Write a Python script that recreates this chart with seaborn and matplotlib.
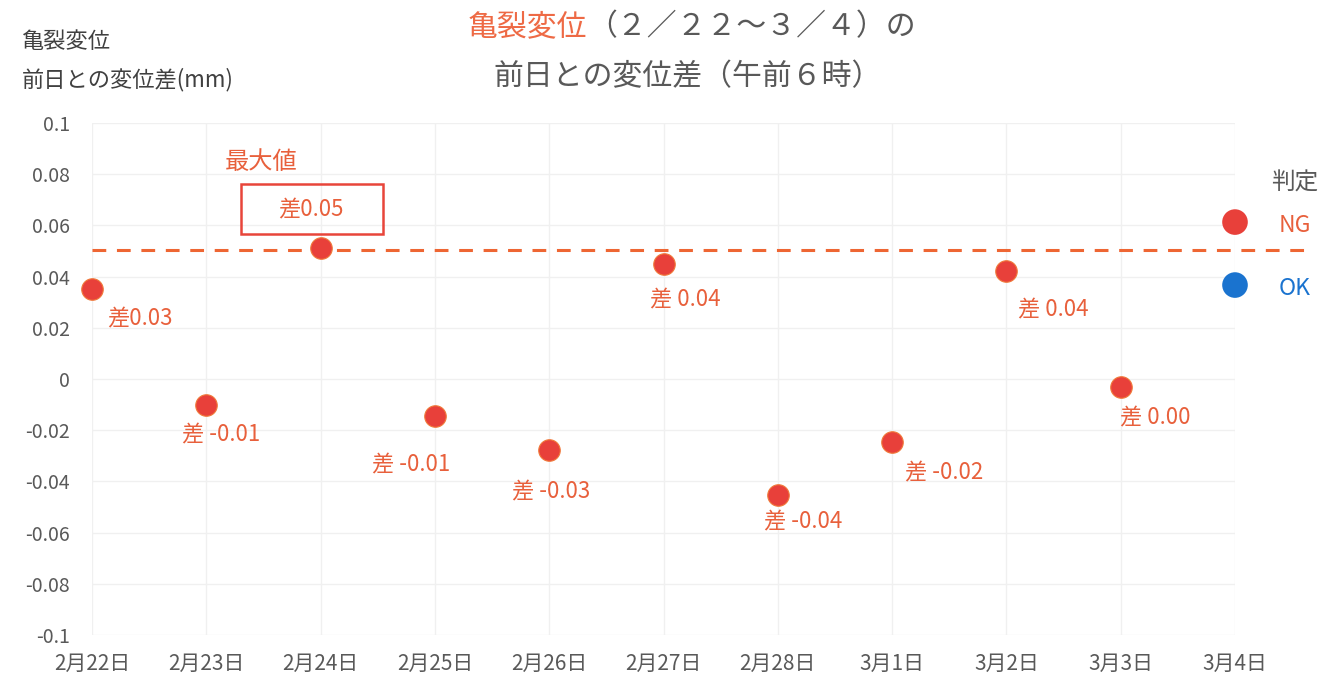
import matplotlib
matplotlib.use("Agg")
import matplotlib.pyplot as plt
from matplotlib.patches import Rectangle
import seaborn as sns
import pandas as pd
import numpy as np

# ---- data ----
dates = ["2月22日", "2月23日", "2月24日", "2月25日", "2月26日", "2月27日",
         "2月28日", "3月1日", "3月2日", "3月3日", "3月4日"]
diff_values = [0.035, -0.010, 0.051, -0.0145, -0.0277, 0.045, -0.0453, -0.0246, 0.042, -0.003]
diff_labels = ["差0.03", "差 -0.01", "差0.05", "差 -0.01", "差 -0.03", "差 0.04",
               "差 -0.04", "差 -0.02", "差 0.04", "差 0.00"]
threshold = 0.0505
legend_names = ["NG", "OK"]
legend_values = [0.0613, 0.0367]
yticks = [-0.1, -0.08, -0.06, -0.04, -0.02, 0, 0.02, 0.04, 0.06, 0.08, 0.1]

title_red = "亀裂変位"
title_rest = "（２／２２～３／４）の"
title2 = "前日との変位差（午前６時）"

# label offsets in pixels (x right, y up)
label_offsets = [(48, -30), (15, -30), (-10, 39), (-24, -49), (2, -42), (22, -36),
                 (25, -27), (52, -31), (47, -38), (35, -31)]

sns.set_style("white")
plt.rcParams["font.family"] = ["Noto Sans CJK JP", "DejaVu Sans"]
plt.rcParams["axes.unicode_minus"] = False

W, H = 1335, 684
fig = plt.figure(figsize=(W / 100, H / 100), dpi=100)
ax = fig.add_axes([92 / W, 1 - 635 / H, (1235 - 92) / W, (635 - 123) / H])

RED = "#E8403A"
ORANGE = "#E8603C"
BLUE = "#1A73CF"
GRAY = "#595959"

df = pd.DataFrame({"x": np.arange(len(diff_values)), "y": diff_values})
sns.scatterplot(data=df, x="x", y="y", ax=ax, s=240, color=RED,
                edgecolor="#F07A3A", linewidth=0.8, clip_on=False, zorder=5)

leg = pd.DataFrame({"x": [len(dates) - 1] * 2, "y": legend_values, "name": legend_names})
sns.scatterplot(data=leg, x="x", y="y", hue="name", palette={"NG": RED, "OK": BLUE},
                ax=ax, s=340, edgecolor="none", clip_on=False, zorder=5, legend=False)

ax.set_xlim(0, len(dates) - 1)
ax.set_ylim(-0.1, 0.1)
ax.set_xticks(range(len(dates)))
ax.set_xticklabels(dates)
ax.set_yticks(yticks)
ax.set_yticklabels([f"{v:g}" for v in yticks])
ax.tick_params(axis="both", length=0, labelcolor=GRAY)
ax.tick_params(axis="y", pad=16, labelsize=14)
ax.tick_params(axis="x", pad=13, labelsize=15)
ax.set_xlabel("")
ax.set_ylabel("")
for sp in ax.spines.values():
    sp.set_visible(False)
ax.grid(True, color="#F0F0F0", linewidth=1.0)
ax.set_axisbelow(True)

# threshold dashed line
ax.axhline(threshold, xmin=0, xmax=(1310 - 92) / (1235 - 92), color="#EE6633",
           linewidth=2.2, linestyle=(0, (4.5, 3.5)), clip_on=False, zorder=3)

# data labels
for i, (lab, off) in enumerate(zip(diff_labels, label_offsets)):
    ax.annotate(lab, xy=(i, diff_values[i]), xytext=off, textcoords="offset pixels",
                ha="center", va="center", fontsize=16, color=ORANGE, zorder=6)

# max value box and label
imax = int(np.argmax(diff_values))
ax.annotate("最大値", xy=(imax, diff_values[imax]), xytext=(-59, 86),
            textcoords="offset pixels", ha="center", va="center", fontsize=17.5,
            color=ORANGE)
px_per_x = (1235 - 92) / (len(dates) - 1)
px_per_y = (635 - 123) / 0.2
bx0 = imax + (-80) / px_per_x
bw = 142 / px_per_x
by0 = diff_values[imax] + 14 / px_per_y
bh = 50 / px_per_y
ax.add_patch(Rectangle((bx0, by0), bw, bh, fill=False, edgecolor="#E8453A",
                       linewidth=1.8, clip_on=False, zorder=4))

# legend labels
ax.annotate("判定", xy=(len(dates) - 1, legend_values[0]), xytext=(60, 39),
            textcoords="offset pixels", ha="center", va="center", fontsize=17, color=GRAY)
for name, val, c in zip(legend_names, legend_values, [ORANGE, BLUE]):
    ax.annotate(name, xy=(len(dates) - 1, val), xytext=(60, -3),
                textcoords="offset pixels", ha="center", va="center", fontsize=16.5, color=c)

# y axis title
fig.text(22 / W, 1 - 42 / H, "亀裂変位", ha="left", va="center", fontsize=16, color="#404040")
fig.text(22 / W, 1 - 80 / H, "前日との変位差(mm)", ha="left", va="center", fontsize=16,
         color="#404040")

# title
TFS = 21.5
t1 = fig.text(468 / W, 1 - 27 / H, title_red, ha="left", va="center", fontsize=TFS,
              color="#EE6A45")
ax.annotate(title_rest, xycoords=t1, xy=(1, 0.5), va="center", ha="left",
            fontsize=TFS, color=GRAY, annotation_clip=False)
fig.text(688 / W, 1 - 77 / H, title2, ha="center", va="center", fontsize=TFS, color=GRAY)

fig.savefig("out.png", dpi=100)
